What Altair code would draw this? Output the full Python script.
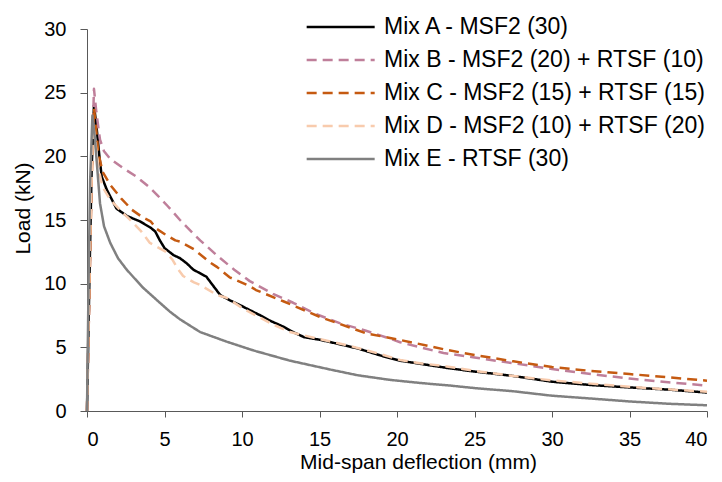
import altair as alt
import pandas as pd

series_names = [
    "Mix A - MSF2 (30)",
    "Mix B - MSF2 (20) + RTSF (10)",
    "Mix C - MSF2 (15) + RTSF (15)",
    "Mix D - MSF2 (10) + RTSF (20)",
    "Mix E - RTSF (30)",
]
series_colors = ["#000000", "#BF7F9A", "#C55A11", "#F8CBAD", "#808080"]

a_x = [0, 0.15, 0.3, 0.45, 0.6, 0.8, 0.95, 1.27, 1.9, 2.6, 3.4, 4.1, 4.4, 4.7, 5.0, 5.57, 6.0, 6.43, 6.86,
       7.7, 8.1, 8.6, 9.2, 9.9, 10.7, 11.2, 11.8, 12.7, 13.3, 14.0, 15.0, 16.1, 17.5, 19.1, 20.2, 21.8,
       23.4, 25, 27.5, 30, 32.5, 35, 37.5, 40]
a_y = [0, 10, 19, 24.0, 22.5, 20, 18.4, 17.4, 15.9, 15.3, 14.9, 14.4, 14.1, 13.4, 12.8, 12.25, 12.0, 11.6,
       11.1, 10.55, 9.9, 9.1, 8.7, 8.3, 7.8, 7.5, 7.1, 6.6, 6.2, 5.8, 5.6, 5.3, 4.9, 4.3, 3.95, 3.65,
       3.35, 3.1, 2.75, 2.3, 2.04, 1.85, 1.68, 1.45]

b_x = [0, 0.15, 0.3, 0.45, 0.6, 0.84, 1.1, 1.5, 2.3, 3.2, 4.0, 4.5, 5.2, 6.0, 6.4, 7.3, 8.4, 9.5, 10.5,
       12.0, 13.3, 14.8, 16.3, 18.0, 19.5, 20.2, 21.5, 23.0, 25, 27.5, 30, 32.5, 35, 37.5, 40]
b_y = [0, 9, 19, 25.3, 23.5, 21.3, 20.4, 19.8, 19.1, 18.4, 17.6, 17.0, 16.1, 15.0, 14.5, 13.4, 12.2, 11.1,
       10.2, 9.2, 8.5, 7.6, 6.9, 6.3, 5.7, 5.4, 5.0, 4.55, 4.2, 3.75, 3.3, 2.9, 2.55, 2.25, 2.0]

c_x = [0, 0.15, 0.3, 0.45, 0.6, 0.73, 1.0, 1.5, 2.2, 2.9, 3.6, 4.1, 4.5, 5.0, 5.7, 6.0, 6.9, 7.9, 8.4,
       9.2, 10.5, 10.9, 12.7, 15.0, 18.0, 20.2, 21.3, 23.2, 25, 27.5, 30, 32.5, 35, 37.5, 40]
c_y = [0, 9, 18, 23.8, 22, 20.3, 18.8, 17.75, 16.7, 15.8, 15.2, 14.9, 14.3, 13.9, 13.4, 13.3, 12.7, 11.7,
       11.3, 10.5, 9.8, 9.5, 8.6, 7.4, 6.1, 5.58, 5.3, 4.8, 4.4, 3.9, 3.45, 3.15, 2.9, 2.65, 2.38]

d_x = [0, 0.1, 0.25, 0.4, 0.55, 0.75, 1.0, 1.5, 2.2, 2.8, 3.5, 4.06, 5.1, 5.5, 5.9, 6.2, 6.9, 7.3, 8.4,
       9.0, 10.0, 10.9, 12.0, 13.1, 15.0, 17.0, 19.0, 20.2, 21.5, 23.2, 25, 27.5, 30, 32.5, 35, 37.5, 40]
d_y = [0, 7, 16, 22.5, 21, 19, 17.6, 16.6, 15.7, 15.0, 14.1, 13.2, 12.5, 11.9, 11.1, 10.6, 10.1, 9.9, 9.1,
       8.9, 8.1, 7.5, 6.8, 6.2, 5.65, 5.1, 4.45, 4.0, 3.75, 3.5, 3.15, 2.75, 2.4, 2.15, 1.9, 1.7, 1.52]

e_x = [0, 0.1, 0.2, 0.35, 0.5, 0.62, 0.84, 1.1, 1.5, 2.0, 2.56, 3.6, 4.06, 4.7, 5.35, 6.0, 7.3, 9.0,
       10.5, 10.9, 13.1, 15.9, 17.5, 19.5, 21.5, 23.4, 25, 27.5, 30, 32.5, 35, 37.5, 40]
e_y = [0, 10, 18, 23.2, 21.5, 19.7, 16.3, 14.5, 13.2, 12.0, 11.1, 9.7, 9.2, 8.5, 7.8, 7.2, 6.2, 5.45,
       4.85, 4.7, 3.95, 3.2, 2.8, 2.45, 2.2, 2.0, 1.8, 1.55, 1.2, 0.98, 0.75, 0.57, 0.45]

x_ticks = [0, 5, 10, 15, 20, 25, 30, 35, 40]
y_ticks = [0, 5, 10, 15, 20, 25, 30]

rows = []
for name, xs, ys in zip(series_names, [a_x, b_x, c_x, d_x, e_x], [a_y, b_y, c_y, d_y, e_y]):
    for i, (xv, yv) in enumerate(zip(xs, ys)):
        rows.append({"series": name, "x": xv, "y": yv, "i": i})
df = pd.DataFrame(rows)

axis_color = "#595959"
font = "Liberation Sans"

legend_opts = dict(title=None, orient="none", legendX=218, legendY=-15,
                   symbolType="M-1,0L5,0", symbolSize=514, symbolStrokeWidth=2.5,
                   labelOffset=53, labelFontSize=23, rowPadding=8, padding=0,
                   labelLimit=500, labelFont=font, labelColor="#000000")

chart = alt.Chart(df).mark_line(strokeWidth=2.5, strokeCap="butt", strokeJoin="round").encode(
    x=alt.X("x:Q", scale=alt.Scale(domain=[0, 40], nice=False),
            axis=alt.Axis(values=x_ticks, title="Mid-span deflection (mm)", grid=False,
                          tickSize=6, labelPadding=12, titlePadding=2, titleX=331)),
    y=alt.Y("y:Q", scale=alt.Scale(domain=[0, 30], nice=False),
            axis=alt.Axis(values=y_ticks, title="Load (kN)", grid=False,
                          tickSize=7, labelPadding=14, titlePadding=10, titleY=179)),
    color=alt.Color("series:N", scale=alt.Scale(domain=series_names, range=series_colors),
                    legend=alt.Legend(**legend_opts)),
    strokeDash=alt.StrokeDash("series:N", scale=alt.Scale(domain=series_names,
                              range=[[1, 0], [10, 6], [10, 6], [10, 6], [1, 0]]),
                              legend=alt.Legend(**legend_opts)),
    order="i:Q",
).properties(
    width=620, height=382,
    autosize=alt.AutoSizeParams(type="none"),
    padding={"left": 79, "top": 21, "right": 7, "bottom": 63},
).configure_view(stroke=None).configure_axis(
    labelFont=font, titleFont=font, labelFontSize=20, titleFontSize=21,
    labelColor="#000000", titleColor="#000000", titleFontWeight="normal",
    domainColor=axis_color, tickColor=axis_color, domainWidth=1, tickWidth=1,
)

chart.save("out.html", embed_options={"renderer": "svg", "actions": False})
